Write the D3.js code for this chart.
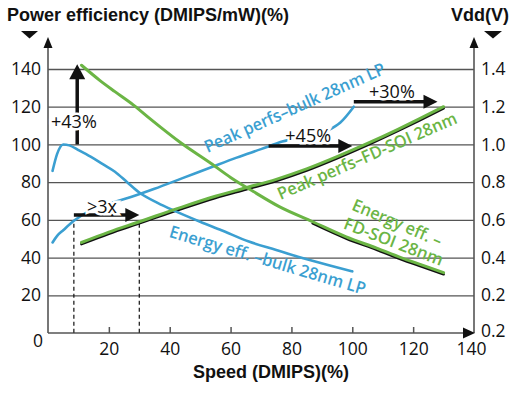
<!DOCTYPE html>
<html>
<head>
<meta charset="utf-8">
<script src="https://cdn.jsdelivr.net/npm/d3@7"></script>
<style>
  body { margin: 0; background: #fff; }
  svg { display: block; }
  .tick text { font-family: "Open Sans", sans-serif; font-size: 17.5px; fill: #111; }
  .bold { font-family: "Liberation Sans", Arial, sans-serif; font-weight: bold; font-size: 18px; fill: #111; }
  .note { font-family: "Open Sans", sans-serif; font-size: 18px; fill: #111; }
  .curve-label { font-family: "Open Sans", sans-serif; font-size: 17px; font-weight: 600; }
</style>
</head>
<body>
<svg width="523" height="399"></svg>
<script>
// x ticks (speed, %) and left / right axis ticks
var speedTicks = [20, 40, 60, 80, 100, 120, 140];
var effTicks = [0, 20, 40, 60, 80, 100, 120, 140];
var vddTicks = [0, 0.2, 0.4, 0.6, 0.8, 1.0, 1.2, 1.4];
var vddLabels = ["0.2", "0.2", "0.4", "0.6", "0.8", "1.0", "1.2", "1.4"];

// Energy eff. – bulk 28nm LP (blue)
var energyBulkSpeed = [1.5, 3, 5, 7, 10, 14, 18, 22, 26, 30, 36, 42, 50, 57, 66, 75, 83, 92, 100];
var energyBulkValue = [86, 95, 100, 99.5, 97, 93.5, 89.5, 85.5, 80, 74.5, 69, 64.5, 59, 54.5, 48.5, 44, 40, 36, 32.7];

// Peak perfs – bulk 28nm LP (blue)
var peakBulkSpeed = [1.5, 3, 5, 8.5, 14, 20, 27, 35, 44, 53, 62, 70, 77, 85, 92, 96, 100.5];
var peakBulkValue = [48, 51.5, 54.5, 59.5, 65, 68.5, 72, 76.5, 82, 87.5, 93, 97.5, 101.5, 104.5, 107.5, 111.5, 120];

// Energy eff. – FD-SOI 28nm (green)
var energyFdsoiSpeed = [11, 17, 22, 28, 34, 43.5, 53.5, 60, 67.5, 76, 87, 98, 108, 116, 123, 130];
var energyFdsoiValue = [142, 134, 128, 121, 113, 101, 90, 82.5, 75, 67, 59, 51, 45, 40, 36, 32];

// Peak perfs – FD-SOI 28nm (green)
var peakFdsoiSpeed = [11, 20, 30, 43.5, 55, 65, 75, 85, 95, 105, 115, 122, 130];
var peakFdsoiValue = [48, 53.5, 59, 66.5, 72.5, 77, 81.5, 87, 93.5, 100.5, 108, 113.5, 120];

var blue = "#3b9fd1", green = "#6bb545", axisColor = "#555";

var svg = d3.select("svg");
var plotLeft = 48, plotRight = 474, plotTop = 69, plotBottom = 333;

var x = d3.scaleLinear().domain([0, 140]).range([plotLeft, plotRight]);
var y = d3.scaleLinear().domain([0, 140]).range([plotBottom, plotTop]);
var yR = d3.scaleLinear().domain([0, 1.4]).range([plotBottom, plotTop]);

function zip(s, v) { return s.map(function (d, i) { return { s: d, v: v[i] }; }); }

// titles
svg.append("text").attr("class", "bold").attr("x", 7).attr("y", 21).text("Power efficiency (DMIPS/mW)(%)");
svg.append("text").attr("class", "bold").attr("x", 509).attr("y", 21).attr("text-anchor", "end").text("Vdd(V)");
svg.append("text").attr("class", "bold").attr("x", 271).attr("y", 378).attr("text-anchor", "middle").text("Speed (DMIPS)(%)");

// little black markers under titles
svg.append("path").attr("d", "M21,31 L38,31 L29.5,38.5 Z").attr("fill", "#111");
svg.append("path").attr("d", "M484,31 L502,31 L493,38.5 Z").attr("fill", "#111");

// grid
svg.append("g")
  .attr("transform", "translate(" + plotLeft + ",0)")
  .call(d3.axisLeft(y).tickValues(effTicks.slice(1)).tickSize(-(plotRight - plotLeft)).tickFormat(""))
  .call(function (g) {
    g.select(".domain").remove();
    g.selectAll("line").attr("stroke", axisColor).attr("stroke-width", 1.3);
  });

// left axis labels
svg.append("g")
  .attr("transform", "translate(" + plotLeft + ",0)")
  .call(d3.axisLeft(y).tickValues(effTicks).tickSize(0).tickPadding(7))
  .call(function (g) {
    g.select(".domain").remove();
    g.selectAll(".tick").filter(function (d) { return d === 0; }).select("text")
      .attr("dy", "0.78em").attr("x", -5);
  });

// right axis labels
svg.append("g")
  .attr("transform", "translate(" + plotRight + ",0)")
  .call(d3.axisRight(yR).tickValues(vddTicks).tickSize(0).tickPadding(7)
    .tickFormat(function (d, i) { return vddLabels[i]; }))
  .call(function (g) {
    g.select(".domain").remove();
    g.selectAll(".tick").filter(function (d) { return d === 0; }).select("text").attr("dy", "0.2em");
  });

// bottom axis
svg.append("g")
  .attr("transform", "translate(0," + plotBottom + ")")
  .call(d3.axisBottom(x).tickValues(speedTicks).tickSizeInner(-6).tickSizeOuter(0).tickPadding(10))
  .call(function (g) {
    g.select(".domain").remove();
    g.selectAll("line").attr("stroke", axisColor).attr("stroke-width", 1.5);
    var last = g.selectAll(".tick").filter(function (d) { return d === 140; });
    last.select("line").remove();
    last.select("text").attr("x", -3);
  });

// axis lines with arrow heads
var axes = svg.append("g").attr("stroke", axisColor).attr("stroke-width", 1.6).attr("fill", "none");
axes.append("line").attr("x1", x(0)).attr("x2", x(0)).attr("y1", plotBottom).attr("y2", 45);
axes.append("line").attr("x1", x(140)).attr("x2", x(140)).attr("y1", plotBottom).attr("y2", 45);
axes.append("line").attr("x1", x(0)).attr("x2", x(140) - 6).attr("y1", plotBottom).attr("y2", plotBottom);
svg.append("path").attr("fill", "#111")
  .attr("d", "M" + (x(0) - 4.5) + ",48 L" + x(0) + ",37 L" + (x(0) + 4.5) + ",48 Z");
svg.append("path").attr("fill", "#111")
  .attr("d", "M" + (x(140) - 4.5) + ",48 L" + x(140) + ",37 L" + (x(140) + 4.5) + ",48 Z");
svg.append("path").attr("fill", "#111")
  .attr("d", "M" + (x(140) - 11) + "," + (plotBottom - 5.5) + " L" + (x(140) + 1) + "," + plotBottom +
    " L" + (x(140) - 11) + "," + (plotBottom + 5.5) + " Z");

// dashed guides
[8.5, 30].forEach(function (s) {
  svg.append("line")
    .attr("x1", x(s)).attr("x2", x(s)).attr("y1", y(58)).attr("y2", plotBottom)
    .attr("stroke", "#111").attr("stroke-width", 1.2).attr("stroke-dasharray", "4,3");
});

// curves
var line = d3.line().x(function (d) { return x(d.s); }).y(function (d) { return y(d.v); })
  .curve(d3.curveMonotoneX);

var energyBulk = zip(energyBulkSpeed, energyBulkValue);
var peakBulk = zip(peakBulkSpeed, peakBulkValue);
var energyFdsoi = zip(energyFdsoiSpeed, energyFdsoiValue);
var peakFdsoi = zip(peakFdsoiSpeed, peakFdsoiValue);

var curves = svg.append("g").attr("fill", "none").attr("stroke-linecap", "round");
// black shadows under the FD-SOI curves
curves.append("path").datum(peakFdsoi).attr("d", line)
  .attr("stroke", "#111").attr("stroke-width", 2.6).attr("transform", "translate(0,1.6)");
curves.append("path").datum(energyFdsoi.filter(function (d) { return d.s >= 87; })).attr("d", line)
  .attr("stroke", "#111").attr("stroke-width", 2.6).attr("transform", "translate(0,1.6)");

curves.append("path").datum(energyBulk).attr("d", line).attr("stroke", blue).attr("stroke-width", 2.6);
curves.append("path").datum(peakBulk).attr("d", line).attr("stroke", blue).attr("stroke-width", 2.6);
curves.append("path").datum(energyFdsoi).attr("d", line).attr("stroke", green).attr("stroke-width", 3);
curves.append("path").datum(peakFdsoi).attr("d", line).attr("stroke", green).attr("stroke-width", 3);

// arrows
function arrowH(v, s0, s1) {
  var yy = y(v), x0 = x(s0), x1 = x(s1);
  svg.append("line").attr("x1", x0).attr("x2", x1 - 12).attr("y1", yy).attr("y2", yy)
    .attr("stroke", "#111").attr("stroke-width", 3.5);
  svg.append("path").attr("fill", "#111")
    .attr("d", "M" + (x1 - 14) + "," + (yy - 7) + " L" + x1 + "," + yy + " L" + (x1 - 14) + "," + (yy + 7) + " Z");
}
function arrowV(s, v0, v1) {
  var xx = x(s), y0 = y(v0), y1 = y(v1);
  svg.append("line").attr("x1", xx).attr("x2", xx).attr("y1", y0).attr("y2", y1 + 12)
    .attr("stroke", "#111").attr("stroke-width", 3.5);
  svg.append("path").attr("fill", "#111")
    .attr("d", "M" + (xx - 8) + "," + (y1 + 15) + " L" + xx + "," + y1 + " L" + (xx + 8) + "," + (y1 + 15) + " Z");
}
arrowV(9.6, 100, 142.5);
arrowH(62.6, 8.5, 30);
arrowH(99.2, 72.5, 100);
arrowH(122.6, 100.5, 128);

function note(txt, s, v) {
  svg.append("text").attr("class", "note").attr("x", x(s)).attr("y", y(v))
    .attr("stroke", "#fff").attr("stroke-width", 5).attr("paint-order", "stroke")
    .text(txt);
}
note("+43%", 1, 108.5);
note(">3x", 12.8, 63.7);
note("+45%", 78, 101.5);
note("+30%", 105.5, 124.7);

// curve labels
function curveLabel(txt, s, v, angle, len, color) {
  svg.append("text").attr("class", "curve-label")
    .attr("transform", "translate(" + x(s) + "," + y(v) + ") rotate(" + angle + ")")
    .attr("textLength", len).attr("lengthAdjust", "spacingAndGlyphs")
    .attr("fill", color).text(txt);
}
curveLabel("Peak perfs\u2013bulk 28nm LP", 52.4, 95.5, -24, 196, blue);
curveLabel("Peak perfs\u2013FD-SOI 28nm", 76.4, 70.5, -23.5, 194, green);
curveLabel("Energy eff. \u2013", 99.5, 65.5, 23, 96, green);
curveLabel("FD-SOI 28nm", 96.8, 55.5, 21, 105, green);
curveLabel("Energy eff. \u2013bulk 28nm LP", 39.5, 51, 16.5, 204, blue);
</script>
</body>
</html>
